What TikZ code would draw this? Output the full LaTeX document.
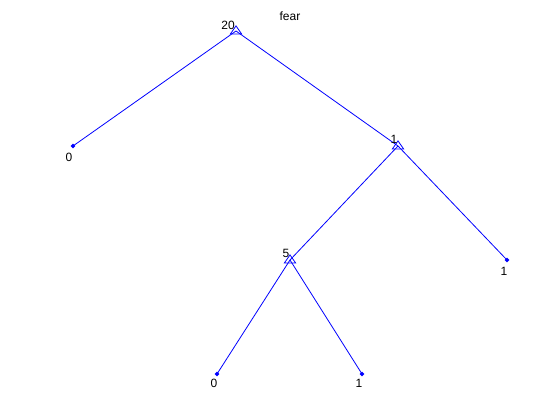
\documentclass[tikz,border=0pt]{standalone}
\usepackage{fontspec}
\setmainfont{Liberation Sans}
\usetikzlibrary{shapes.geometric}
\begin{document}
\begin{tikzpicture}[x=1pt,y=-1pt,
  edge/.style={blue,line width=0.8pt},
  inner/.style={draw=blue,line width=0.8pt,isosceles triangle,shape border rotate=90,isosceles triangle apex angle=70,minimum width=11pt,minimum height=8pt,inner sep=0pt},
  leaf/.style={fill=blue,diamond,minimum size=5pt,inner sep=0pt},
  lbl/.style={font=\fontsize{12}{12}\selectfont,inner sep=0pt}]
\useasboundingbox (0,0) rectangle (560,420);
\fill[white] (0,0) rectangle (560,420);
\node[lbl] (title) at (290,16) {fear};
\coordinate (r) at (236,31);
\coordinate (a) at (398,146);
\coordinate (b) at (290,260);
\coordinate (l1) at (73,146);
\coordinate (l2) at (507,260);
\coordinate (l3) at (217,374);
\coordinate (l4) at (362,374);
\draw[edge] (r) -- (l1);
\draw[edge] (r) -- (a);
\draw[edge] (a) -- (b);
\draw[edge] (a) -- (l2);
\draw[edge] (b) -- (l3);
\draw[edge] (b) -- (l4);
\node[inner] (rn) at (236,31) {};
\node[inner] (an) at (398,146) {};
\node[inner] (bn) at (290,260) {};
\foreach \p in {l1,l2,l3,l4} \node[leaf] at (\p) {};
\node[lbl] (t20) at (228,25) {20};
\node[lbl] (t1) at (394,139) {1};
\node[lbl] (t5) at (286,253) {5};
\node[lbl] (e1) at (69,157) {0};
\node[lbl] (e2) at (504,271) {1};
\node[lbl] (e3) at (214,383) {0};
\node[lbl] (e4) at (359,383) {1};
\end{tikzpicture}
\end{document}
